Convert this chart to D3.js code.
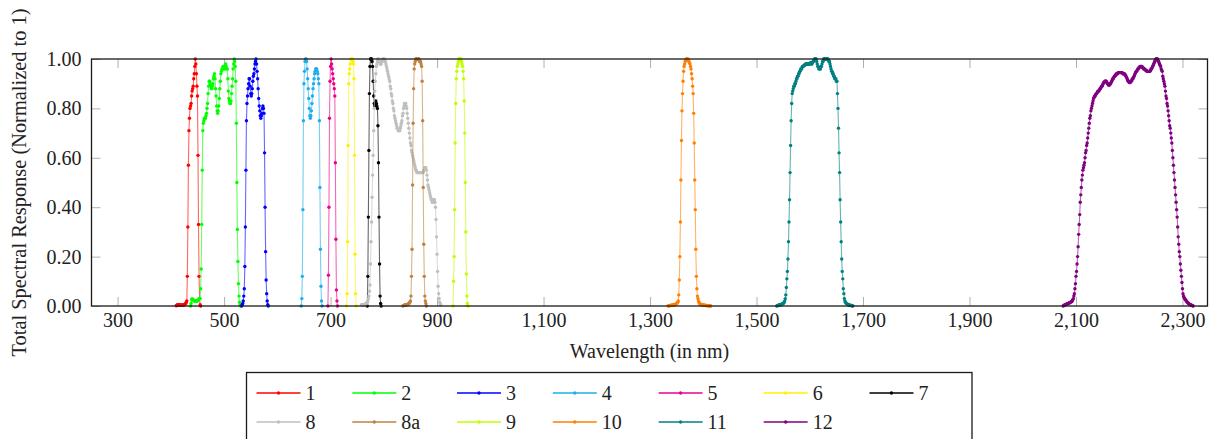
<!DOCTYPE html>
<html>
<head>
<meta charset="utf-8">
<script src="https://cdn.jsdelivr.net/npm/d3@7"></script>
<style>
  body { margin: 0; background: #fff; }
  svg text { font-family: "Liberation Serif", "DejaVu Serif", serif; fill: #222; }
</style>
</head>
<body>
<div id="chart"></div>
<script>
/* global d3 */

// band names, colours and the first wavelength (nm) of each band's 1 nm samples
const bandLabels = ['1', '2', '3', '4', '5', '6', '7', '8', '8a', '9', '10', '11', '12'];
const bandColors = ['#ff0000', '#00ff00', '#0000ff', '#1eaeea', '#ec008c', '#fff200', '#000000',
                    '#bfbfbf', '#bf8040', '#bfff00', '#ff8000', '#008080', '#800080'];
const bandStart = [410, 437, 533, 645, 695, 730, 769, 758, 836, 930, 1334, 1538, 2076];

const xTicks = [300, 500, 700, 900, 1100, 1300, 1500, 1700, 1900, 2100, 2300];
const yTicks = [0, 0.2, 0.4, 0.6, 0.8, 1.0];

// normalised response, one value per nm
const b1 = [0.001, 0.002, 0.004, 0.005, 0.004, 0.003, 0.004, 0.005, 0.004, 0.003,
  0.003, 0.004, 0.003, 0.003, 0.004, 0.005, 0.006, 0.008, 0.01, 0.015,
  0.02, 0.12, 0.32, 0.57, 0.71, 0.76, 0.80, 0.81, 0.82, 0.85,
  0.87, 0.88, 0.89, 0.92, 0.94, 0.97, 1.0, 0.98, 0.94, 0.89,
  0.85, 0.61, 0.33, 0.12, 0.03, 0.005, 0.0];
const b2 = [0.0, 0.01, 0.025, 0.03, 0.028, 0.025, 0.022, 0.02, 0.02, 0.022,
  0.02, 0.018, 0.02, 0.02, 0.022, 0.025, 0.03, 0.03, 0.03,
  0.07, 0.15, 0.33, 0.55, 0.71, 0.74, 0.75, 0.76, 0.76, 0.76,
  0.77, 0.78, 0.80, 0.82, 0.86, 0.89, 0.91, 0.91, 0.90, 0.89,
  0.88, 0.88, 0.89, 0.90, 0.92, 0.93, 0.94, 0.92, 0.88, 0.85,
  0.81, 0.79, 0.78, 0.79, 0.81, 0.84, 0.88, 0.91, 0.94, 0.95,
  0.96, 0.96, 0.97, 0.97, 0.96, 0.96, 0.97, 0.98, 0.97, 0.96,
  0.96, 0.92, 0.87, 0.84, 0.83, 0.82, 0.82, 0.83, 0.86, 0.89,
  0.92, 0.96, 0.98, 1.0, 0.99, 0.97, 0.91, 0.74, 0.50, 0.31,
  0.18, 0.09, 0.04, 0.015, 0.005, 0.0];
const b3 = [0.0, 0.005, 0.01, 0.02, 0.04, 0.07, 0.16, 0.32, 0.55, 0.75,
  0.82, 0.85, 0.88, 0.90, 0.92, 0.92, 0.89, 0.86, 0.85, 0.86,
  0.88, 0.91, 0.93, 0.94, 0.96, 0.98, 0.99, 1.0, 0.98, 0.95,
  0.92, 0.88, 0.84, 0.81, 0.79, 0.77, 0.76, 0.77, 0.78, 0.80,
  0.81, 0.80, 0.78, 0.62, 0.40, 0.22, 0.105, 0.05, 0.02, 0.005, 0.0];
const b4 = [0.0, 0.03, 0.12, 0.39, 0.75, 0.90, 0.95, 0.99, 1.0, 1.0,
  0.99, 0.96, 0.92, 0.88, 0.84, 0.80, 0.77, 0.76, 0.77, 0.79,
  0.82, 0.85, 0.88, 0.90, 0.92, 0.94, 0.95, 0.96, 0.96, 0.96,
  0.95, 0.94, 0.92, 0.90, 0.75, 0.48, 0.23, 0.08, 0.02, 0.0];
const b5 = [0.0, 0.125, 0.40, 0.76, 0.91, 0.97, 1.0, 0.98, 0.96, 0.94,
  0.92, 0.90, 0.88, 0.85, 0.58, 0.27, 0.065, 0.02, 0.0];
const b6 = [0.0, 0.05, 0.26, 0.65, 0.90, 0.94, 0.96, 0.98, 1.0, 1.0,
  1.0, 1.0, 0.99, 0.98, 0.92, 0.61, 0.21, 0.05, 0.0];
const b7 = [0.0, 0.12, 0.36, 0.63, 0.86, 0.97, 1.0, 1.0, 1.0, 0.99,
  0.97, 0.91, 0.85, 0.82, 0.81, 0.82, 0.83, 0.82, 0.81, 0.80,
  0.73, 0.58, 0.36, 0.17, 0.04, 0.01, 0.0];
const b8 = [0.005, 0.005, 0.005, 0.005, 0.005, 0.006, 0.006, 0.007, 0.008, 0.01,
  0.012, 0.015, 0.02, 0.03, 0.04, 0.06, 0.085,
  0.17, 0.26, 0.34, 0.44, 0.53, 0.61, 0.71, 0.80, 0.87, 0.91,
  0.94, 0.97, 0.98, 0.99, 1.0, 1.0,
  0.99, 0.99, 0.98, 0.98, 0.98, 0.99, 0.99, 1.0, 1.0, 1.0,
  1.0, 0.99, 0.99, 0.98, 0.97, 0.96, 0.95, 0.94, 0.93, 0.92,
  0.91, 0.89, 0.88, 0.86, 0.85, 0.83, 0.82, 0.80, 0.79, 0.77,
  0.76, 0.75, 0.74, 0.73, 0.72, 0.72, 0.71, 0.71, 0.71, 0.71,
  0.72, 0.73, 0.74, 0.75, 0.77, 0.78, 0.80, 0.81, 0.82, 0.82, 0.82,
  0.81, 0.80, 0.78, 0.76, 0.74, 0.72, 0.70, 0.68, 0.66, 0.65,
  0.63, 0.62, 0.61, 0.60, 0.59, 0.58, 0.57, 0.56, 0.55, 0.55,
  0.54, 0.54, 0.54, 0.54, 0.54, 0.54, 0.54, 0.54, 0.54, 0.54,
  0.54, 0.54, 0.54, 0.55, 0.55, 0.56, 0.56, 0.56, 0.55, 0.53,
  0.51, 0.49, 0.48, 0.47, 0.46, 0.45, 0.44, 0.43, 0.43, 0.42,
  0.42, 0.43, 0.43, 0.43, 0.42, 0.40, 0.35, 0.28, 0.21, 0.14,
  0.08, 0.05, 0.03, 0.015, 0.008, 0.004];
const b8a = [0.0, 0.002, 0.003, 0.003, 0.004, 0.004, 0.005, 0.005, 0.006, 0.007,
  0.008, 0.01, 0.012, 0.015, 0.02, 0.04, 0.12, 0.23, 0.49, 0.74,
  0.88, 0.96, 0.98, 0.99, 1.0, 1.0, 1.0, 1.0, 1.0, 1.0,
  1.0, 0.99, 0.99, 0.99, 0.98, 0.97, 0.91, 0.75, 0.48, 0.25,
  0.12, 0.04, 0.02, 0.01, 0.0];
const b9 = [0.0, 0.1, 0.2, 0.39, 0.66, 0.82, 0.92, 0.95, 0.97, 0.98,
  0.99, 1.0, 1.0, 1.0, 1.0, 1.0, 0.99, 0.98, 0.97, 0.95,
  0.92, 0.83, 0.70, 0.50, 0.30, 0.13, 0.04, 0.01, 0.0];
const b10 = [0.0, 0.001, 0.001, 0.002, 0.002, 0.002, 0.003, 0.003, 0.003, 0.004,
  0.004, 0.005, 0.005, 0.006, 0.007, 0.008, 0.01, 0.012, 0.015, 0.02,
  0.045, 0.105, 0.20, 0.34, 0.51, 0.67, 0.79, 0.86, 0.91, 0.95,
  0.97, 0.98, 0.99, 0.995, 1.0, 1.0, 1.0, 1.0, 0.995, 0.99,
  0.985, 0.98, 0.97, 0.96, 0.94, 0.92, 0.89, 0.86, 0.78, 0.66,
  0.51, 0.39, 0.23, 0.12, 0.07, 0.04, 0.03, 0.02, 0.015, 0.01,
  0.008, 0.007, 0.006, 0.005, 0.005, 0.004, 0.004, 0.003, 0.003, 0.003,
  0.002, 0.002, 0.002, 0.002, 0.001, 0.001, 0.001, 0.001, 0.001, 0.0,
  0.0];
const b11 = [0.0, 0.001, 0.002, 0.003, 0.003, 0.004, 0.005, 0.005, 0.006, 0.007,
  0.008, 0.009, 0.01, 0.012, 0.015, 0.02, 0.03, 0.045, 0.075, 0.11,
  0.14, 0.19, 0.26, 0.34, 0.43, 0.54, 0.65, 0.75, 0.82, 0.86,
  0.87, 0.88, 0.89, 0.89, 0.90, 0.90, 0.91, 0.92, 0.92, 0.93,
  0.93, 0.94, 0.94, 0.95, 0.95, 0.96, 0.96, 0.96, 0.97, 0.97,
  0.97, 0.975, 0.975, 0.975, 0.98, 0.98, 0.98, 0.98, 0.98, 0.98,
  0.98, 0.98, 0.98, 0.985, 0.985, 0.98, 0.98, 0.985, 0.99, 0.99,
  0.995, 1.0, 1.0, 1.0, 1.0, 0.99, 0.98, 0.97, 0.97, 0.96,
  0.96, 0.96, 0.96, 0.97, 0.97, 0.98, 0.99, 0.99, 1.0, 1.0,
  1.0, 1.0, 1.0, 1.0, 1.0, 1.0, 1.0, 0.995, 0.99, 0.99,
  0.98, 0.97, 0.96, 0.95, 0.95, 0.94, 0.94, 0.93, 0.93, 0.92,
  0.92, 0.92, 0.91, 0.91, 0.86, 0.80, 0.72, 0.62, 0.54, 0.43,
  0.34, 0.26, 0.19, 0.14, 0.11, 0.07, 0.05, 0.03, 0.02, 0.015,
  0.012, 0.01, 0.008, 0.007, 0.006, 0.005, 0.004, 0.003, 0.003, 0.002,
  0.002, 0.001, 0.001, 0.0];
const b12 = [0.0, 0.002, 0.003, 0.004, 0.005, 0.006, 0.007, 0.008, 0.009, 0.01,
  0.011, 0.012, 0.013, 0.014, 0.015, 0.017, 0.019, 0.02, 0.025, 0.03,
  0.04, 0.05, 0.07, 0.09, 0.12, 0.14, 0.17, 0.20, 0.24, 0.29,
  0.33, 0.37, 0.42, 0.45, 0.48, 0.51, 0.53, 0.55, 0.56, 0.57,
  0.58, 0.60, 0.62, 0.63, 0.65, 0.66, 0.68, 0.70, 0.72, 0.74,
  0.76, 0.77, 0.79, 0.80, 0.81, 0.82, 0.83, 0.84, 0.845, 0.85,
  0.85, 0.855, 0.86, 0.86, 0.865, 0.87, 0.87, 0.87, 0.875, 0.88,
  0.88, 0.885, 0.89, 0.89, 0.895, 0.90, 0.905, 0.905, 0.91, 0.91,
  0.91, 0.91, 0.905, 0.90, 0.90, 0.895, 0.895, 0.895, 0.90, 0.90,
  0.905, 0.91, 0.915, 0.92, 0.92, 0.925, 0.93, 0.93, 0.935, 0.935,
  0.94, 0.94, 0.94, 0.945, 0.945, 0.945, 0.945, 0.945, 0.945, 0.945,
  0.945, 0.945, 0.94, 0.94, 0.94, 0.94, 0.935, 0.935, 0.93, 0.925,
  0.92, 0.915, 0.91, 0.91, 0.905, 0.905, 0.905, 0.91, 0.91, 0.915,
  0.92, 0.92, 0.925, 0.93, 0.935, 0.94, 0.945, 0.95, 0.95, 0.955,
  0.96, 0.96, 0.965, 0.965, 0.97, 0.97, 0.97, 0.97, 0.97, 0.965,
  0.965, 0.96, 0.96, 0.96, 0.955, 0.955, 0.955, 0.95, 0.95, 0.95,
  0.95, 0.95, 0.95, 0.95, 0.955, 0.96, 0.96, 0.965, 0.97, 0.975,
  0.98, 0.985, 0.99, 0.995, 1.0, 1.0, 1.0, 1.0, 0.995, 0.99,
  0.985, 0.98, 0.975, 0.97, 0.96, 0.955, 0.95, 0.93, 0.92, 0.91,
  0.90, 0.89, 0.87, 0.85, 0.84, 0.82, 0.81, 0.79, 0.77, 0.75,
  0.73, 0.72, 0.70, 0.68, 0.66, 0.63, 0.60, 0.57, 0.54, 0.51,
  0.48, 0.45, 0.42, 0.39, 0.36, 0.32, 0.28, 0.25, 0.22, 0.20,
  0.17, 0.145, 0.12, 0.095, 0.07, 0.05, 0.04, 0.035, 0.03, 0.027,
  0.024, 0.021, 0.018, 0.015, 0.013, 0.011, 0.009, 0.007, 0.006, 0.005,
  0.004, 0.003, 0.002, 0.001, 0.0];

const bandValues = [b1, b2, b3, b4, b5, b6, b7, b8, b8a, b9, b10, b11, b12];

let buildChart = () => {
  const width = 1215, height = 439;
  const plot = { left: 91.5, right: 1207.5, top: 59, bottom: 306 };

  let svg = d3.select('#chart').append('svg')
    .attr('width', width)
    .attr('height', height);

  let x = d3.scaleLinear().domain([251, 2347]).range([plot.left, plot.right]);
  let y = d3.scaleLinear().domain([0, 1]).range([plot.bottom, plot.top]);

  let bands = bandLabels.map((name, i) => ({
    name: name,
    color: bandColors[i],
    points: bandValues[i].map((v, j) => ({ wl: bandStart[i] + j, v: v }))
  }));

  // ticks, drawn inward on all four sides
  let tickLen = 9;
  let styleTicks = g => {
    g.select('.domain').remove();
    g.selectAll('.tick line').attr('stroke', '#b0b0b0').attr('stroke-width', 1);
    g.selectAll('text').style('font-size', '20px');
  };

  svg.append('g')
    .attr('transform', `translate(0,${plot.bottom})`)
    .call(d3.axisBottom(x).tickValues(xTicks).tickFormat(d3.format(',')).tickSize(-tickLen).tickPadding(7))
    .call(styleTicks);
  svg.append('g')
    .attr('transform', `translate(0,${plot.top})`)
    .call(d3.axisTop(x).tickValues(xTicks).tickFormat('').tickSize(-tickLen))
    .call(styleTicks);
  svg.append('g')
    .attr('transform', `translate(${plot.left},0)`)
    .call(d3.axisLeft(y).tickValues(yTicks).tickFormat(d3.format('.2f')).tickSize(-tickLen).tickPadding(10))
    .call(styleTicks);
  svg.append('g')
    .attr('transform', `translate(${plot.right},0)`)
    .call(d3.axisRight(y).tickValues(yTicks).tickFormat('').tickSize(-tickLen))
    .call(styleTicks);

  // series
  let line = d3.line().x(d => x(d.wl)).y(d => y(d.v));
  let series = svg.append('g').selectAll('g')
    .data(bands)
    .enter().append('g');

  series.append('path')
    .attr('d', d => line(d.points))
    .attr('fill', 'none')
    .attr('stroke', d => d.color)
    .attr('stroke-width', 1.1)
    .attr('stroke-opacity', 0.6);

  series.each(function(d) {
    d3.select(this).selectAll('circle')
      .data(d.points)
      .enter().append('circle')
      .attr('cx', p => x(p.wl))
      .attr('cy', p => y(p.v))
      .attr('r', 1.7)
      .attr('fill', d.color);
  });

  // frame
  svg.append('rect')
    .attr('x', plot.left)
    .attr('y', plot.top)
    .attr('width', plot.right - plot.left)
    .attr('height', plot.bottom - plot.top)
    .attr('fill', 'none')
    .attr('stroke', '#1a1a1a')
    .attr('stroke-width', 1.3);

  // axis titles
  svg.append('text')
    .attr('x', (plot.left + plot.right) / 2)
    .attr('y', 358)
    .attr('text-anchor', 'middle')
    .style('font-size', '20px')
    .text('Wavelength (in nm)');

  svg.append('text')
    .attr('transform', `translate(26,${(plot.top + plot.bottom) / 2}) rotate(-90)`)
    .attr('text-anchor', 'middle')
    .style('font-size', '20.4px')
    .text('Total Spectral Response (Normalized to 1)');

  // legend: 7 columns, two rows
  let legend = svg.append('g');
  let cols = 7, lineLen = 44, textGap = 5, colSep = 36.8;
  let rowY = [393, 422];

  legend.append('rect')
    .attr('x', 246.5)
    .attr('y', 372.5)
    .attr('width', 972 - 246.5)
    .attr('height', 80)
    .attr('fill', '#fff')
    .attr('stroke', '#1a1a1a')
    .attr('stroke-width', 1.3);

  // measure label widths to size the columns like pgfplots does
  let probe = legend.append('text').style('font-size', '20px');
  let colWidth = d3.range(cols).map(c => {
    let w = 0;
    bands.forEach((b, i) => {
      if (i % cols === c) {
        probe.text(b.name);
        w = Math.max(w, probe.node().getComputedTextLength());
      }
    });
    return w;
  });
  probe.remove();

  let colX = [256.5];
  for (let c = 1; c < cols; c++) {
    colX.push(colX[c - 1] + lineLen + textGap + colWidth[c - 1] + colSep);
  }

  let entry = legend.selectAll('g.entry')
    .data(bands)
    .enter().append('g')
    .attr('class', 'entry')
    .attr('transform', (d, i) => `translate(${colX[i % cols]},${rowY[Math.floor(i / cols)]})`);

  entry.append('line')
    .attr('x1', 0).attr('x2', lineLen)
    .attr('y1', 0).attr('y2', 0)
    .attr('stroke', d => d.color)
    .attr('stroke-width', 1.6);
  entry.append('circle')
    .attr('cx', lineLen / 2).attr('cy', 0)
    .attr('r', 1.7)
    .attr('fill', d => d.color);
  entry.append('text')
    .attr('x', lineLen + textGap)
    .attr('y', 0)
    .attr('dy', '0.35em')
    .style('font-size', '20px')
    .text(d => d.name);
};

buildChart();
</script>
</body>
</html>
